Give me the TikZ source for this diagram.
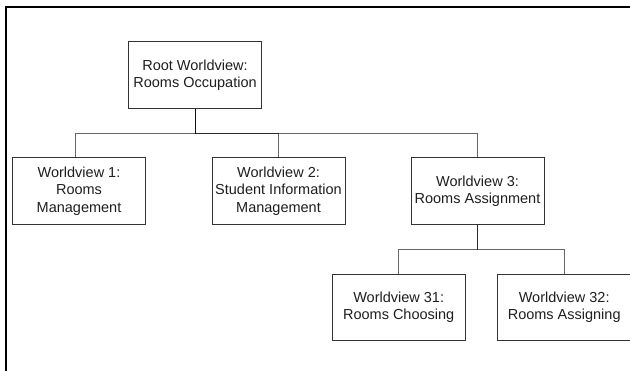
\documentclass[tikz,border=0pt]{standalone}
\usepackage{fontspec}
\setmainfont{Liberation Sans}
\begin{document}
\begin{tikzpicture}[x=1pt,y=-1pt,
  wvbox/.style={draw=black!80, line width=0.9pt, fill=white,
    minimum width=133pt, minimum height=66.5pt, inner sep=0pt,
    align=center, text=black!88,
    font=\fontsize{14.5pt}{17.3pt}\selectfont},
  link/.style={draw=black, line width=1pt, draw opacity=0.6},
  frameline/.style={draw=black, line width=2.3pt}]
  \useasboundingbox (0,0) rectangle (630,371);
  \clip (0,0) rectangle (630,371);

  % outer frame (top and left edges)
  \coordinate (fbl) at (5.8,380);
  \coordinate (ftl) at (5.8,7);
  \coordinate (ftr) at (640,7);
  \draw[frameline] (fbl) -- (ftl) -- (ftr);

  % hierarchy of worldviews
  \node[wvbox] (root) at (195,75)    {Root Worldview:\\Rooms Occupation};
  \node[wvbox] (wv1)  at (79,191)    {Worldview 1:\\Rooms\\Management};
  \node[wvbox] (wv2)  at (278.5,191) {Worldview 2:\\Student Information\\Management};
  \node[wvbox] (wv3)  at (477.5,191) {Worldview 3:\\Rooms Assignment};
  \node[wvbox] (wv31) at (398.7,307.3) {Worldview 31:\\Rooms Choosing};
  \node[wvbox] (wv32) at (564.2,307.3) {Worldview 32:\\Rooms Assigning};

  % elbow connectors from each parent to its children
  \draw[link] (root.south) -- ++(0,25.3) -| ([xshift=-4pt]wv1.north);
  \draw[link] (root.south) -- ++(0,25.3) -| (wv2.north);
  \draw[link] (root.south) -- ++(0,25.3) -| (wv3.north);
  \draw[link] (wv3.south) -- ++(0,25) -| (wv31.north);
  \draw[link] (wv3.south) -- ++(0,25) -| (wv32.north);
\end{tikzpicture}
\end{document}
